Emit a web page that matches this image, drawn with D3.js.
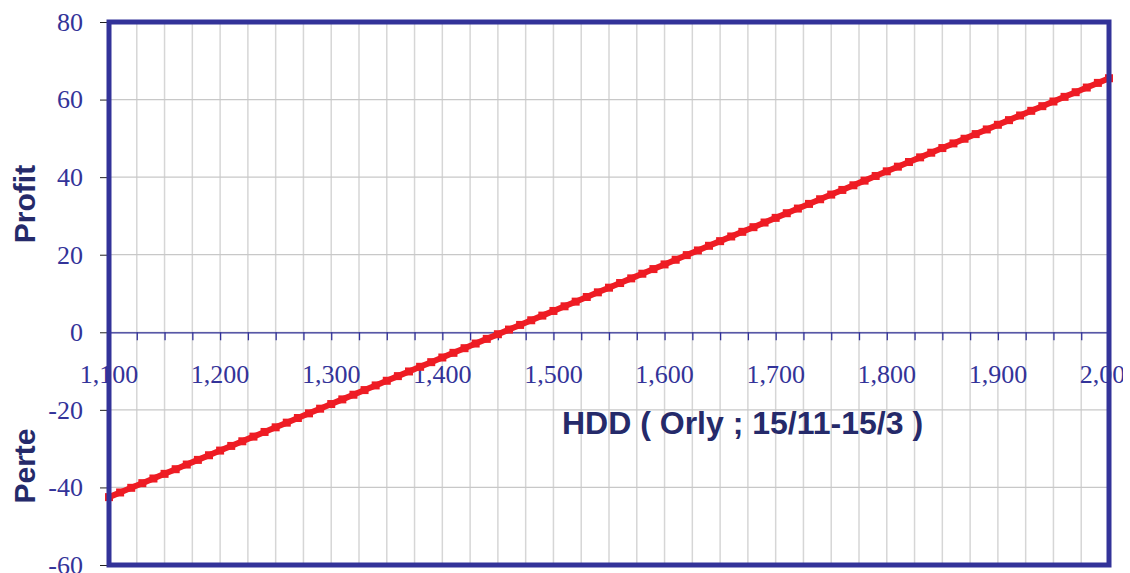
<!DOCTYPE html>
<html>
<head>
<meta charset="utf-8">
<script src="https://cdn.jsdelivr.net/npm/d3@7"></script>
<style>
  body { margin: 0; background: #fff; }
  svg { display: block; }
</style>
</head>
<body>
<script>
// HDD values (step 10) and the payoff
const hdd = d3.range(1100, 2001, 10)
const profit = [
  -42.5, -41.3, -40.1, -38.9, -37.7, -36.5, -35.3, -34.1, -32.9, -31.7,
  -30.5, -29.3, -28.1, -26.9, -25.7, -24.5, -23.3, -22.1, -20.9, -19.7,
  -18.5, -17.3, -16.1, -14.9, -13.7, -12.5, -11.3, -10.1, -8.9, -7.7,
  -6.5, -5.3, -4.1, -2.9, -1.7, -0.5, 0.7, 1.9, 3.1, 4.3,
  5.5, 6.7, 7.9, 9.1, 10.3, 11.5, 12.7, 13.9, 15.1, 16.3,
  17.5, 18.7, 19.9, 21.1, 22.3, 23.5, 24.7, 25.9, 27.1, 28.3,
  29.5, 30.7, 31.9, 33.1, 34.3, 35.5, 36.7, 37.9, 39.1, 40.3,
  41.5, 42.7, 43.9, 45.1, 46.3, 47.5, 48.7, 49.9, 51.1, 52.3,
  53.5, 54.7, 55.9, 57.1, 58.3, 59.5, 60.7, 61.9, 63.1, 64.3,
  65.5
]
const yTicks = [80, 60, 40, 20, 0, -20, -40, -60]
const xLabelTicks = [1100, 1200, 1300, 1400, 1500, 1600, 1700, 1800, 1900, 2000]
const xGridTicks = d3.range(1100, 2001, 25)

const width = 1130, height = 573
const margin = {top: 22, right: 21, bottom: 8, left: 109}
const blue = '#333399'

const svg = d3.select('body').append('svg')
  .attr('width', width)
  .attr('height', height)

const x = d3.scaleLinear().domain([1100, 2000]).range([margin.left, width - margin.right])
const y = d3.scaleLinear().domain([-60, 80]).range([height - margin.bottom, margin.top])

// the chart area ends a little right of the frame, labels get cut there
svg.append('defs').append('clipPath').attr('id', 'clip')
  .append('rect').attr('x', 0).attr('y', 0).attr('width', 1123).attr('height', height)

// grid
svg.append('g')
  .selectAll('line')
  .data(xGridTicks)
  .enter().append('line')
    .attr('x1', d => x(d)).attr('x2', d => x(d))
    .attr('y1', y(80)).attr('y2', y(-60))
    .attr('stroke', '#d6d6d6')
    .attr('stroke-width', 1.5)
svg.append('g')
  .selectAll('line')
  .data(yTicks)
  .enter().append('line')
    .attr('x1', x(1100)).attr('x2', x(2000))
    .attr('y1', d => y(d)).attr('y2', d => y(d))
    .attr('stroke', '#c8c8c8')
    .attr('stroke-width', 1.2)

// y axis ticks + labels
const yAxis = svg.append('g')
  .attr('transform', 'translate(' + margin.left + ',0)')
  .call(d3.axisLeft(y).tickValues(yTicks).tickSize(9).tickPadding(17).tickFormat(d => String(d)))
yAxis.select('.domain').remove()
yAxis.selectAll('line').attr('stroke', '#222')
yAxis.selectAll('text')
  .attr('fill', blue)
  .style('font-family', '"Liberation Serif", "Times New Roman", serif')
  .style('font-size', '26px')

// x axis at zero
const xAxis = svg.append('g')
  .attr('transform', 'translate(0,' + y(0) + ')')
  .call(d3.axisBottom(x).tickValues(xGridTicks).tickSize(8).tickFormat(''))
xAxis.select('.domain').attr('stroke', blue).attr('stroke-width', 1.3)
xAxis.selectAll('line').attr('stroke', blue).attr('stroke-width', 1.3)

svg.append('g')
  .attr('clip-path', 'url(#clip)')
  .selectAll('text')
  .data(xLabelTicks)
  .enter().append('text')
    .attr('x', d => x(d))
    .attr('y', y(0) + 51)
    .attr('text-anchor', 'middle')
    .attr('fill', blue)
    .style('font-family', '"Liberation Serif", "Times New Roman", serif')
    .style('font-size', '26px')
    .text(d => d3.format(',')(d))

// line
const line = d3.line()
  .x((d, i) => x(hdd[i]))
  .y(d => y(d))
svg.append('path')
  .datum(profit)
  .attr('d', line)
  .attr('fill', 'none')
  .attr('stroke', '#ee1c24')
  .attr('stroke-width', 6)
svg.append('g')
  .selectAll('rect')
  .data(profit)
  .enter().append('rect')
    .attr('x', (d, i) => x(hdd[i]) - 4)
    .attr('y', d => y(d) - 4)
    .attr('width', 8)
    .attr('height', 8)
    .attr('fill', '#ee1c24')

// frame
svg.append('rect')
  .attr('x', x(1100)).attr('y', y(80))
  .attr('width', x(2000) - x(1100))
  .attr('height', y(-60) - y(80))
  .attr('fill', 'none')
  .attr('stroke', blue)
  .attr('stroke-width', 5)

// titles
const titleFont = '"Liberation Sans", Arial, sans-serif'
svg.append('text')
  .attr('x', 562).attr('y', 434)
  .attr('fill', '#252a6a')
  .style('font-family', titleFont)
  .style('font-weight', 'bold')
  .style('font-size', '32px')
  .text('HDD ( Orly ; 15/11-15/3 )')
svg.append('text')
  .attr('transform', 'translate(35,204) rotate(-90)')
  .attr('text-anchor', 'middle')
  .attr('fill', '#252a6a')
  .style('font-family', titleFont)
  .style('font-weight', 'bold')
  .style('font-size', '30px')
  .text('Profit')
svg.append('text')
  .attr('transform', 'translate(35,466) rotate(-90)')
  .attr('text-anchor', 'middle')
  .attr('fill', '#252a6a')
  .style('font-family', titleFont)
  .style('font-weight', 'bold')
  .style('font-size', '30px')
  .text('Perte')
</script>
</body>
</html>
